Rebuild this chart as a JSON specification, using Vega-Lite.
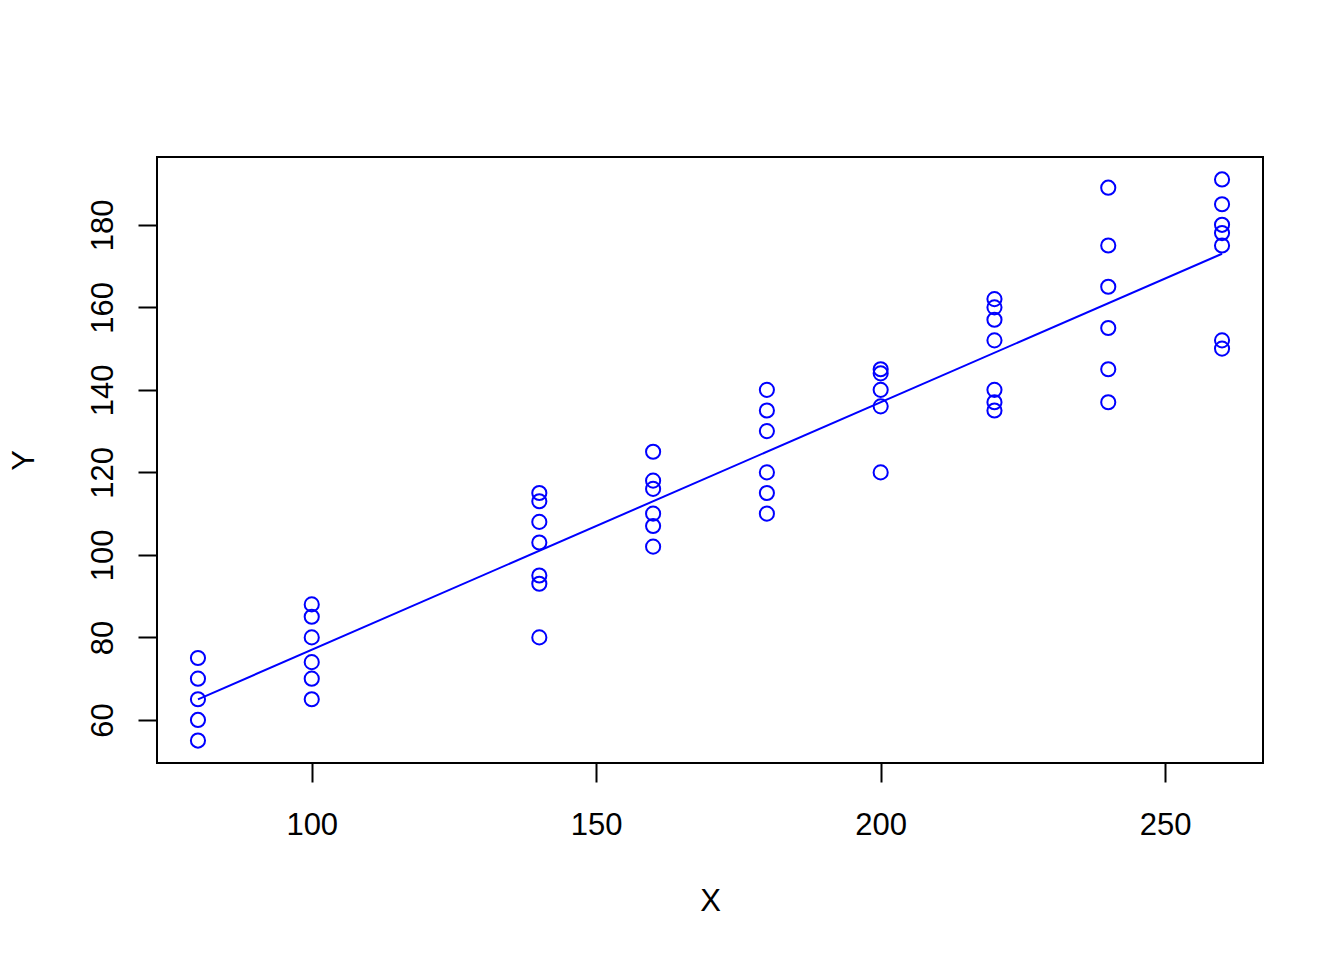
{
  "$schema": "https://vega.github.io/schema/vega-lite/v6.json",
  "width": 1106,
  "height": 606,
  "autosize": {"type": "none"},
  "padding": {"left": 157, "top": 157, "right": 81, "bottom": 197},
  "background": "white",
  "config": {
    "view": {"stroke": "black", "strokeWidth": 2},
    "font": "Liberation Sans"
  },
  "data": {
    "values": [
      {"x": 80, "y": 75}, {"x": 80, "y": 70}, {"x": 80, "y": 65}, {"x": 80, "y": 60}, {"x": 80, "y": 55},
      {"x": 100, "y": 88}, {"x": 100, "y": 85}, {"x": 100, "y": 80}, {"x": 100, "y": 74}, {"x": 100, "y": 70}, {"x": 100, "y": 65},
      {"x": 140, "y": 115}, {"x": 140, "y": 113}, {"x": 140, "y": 108}, {"x": 140, "y": 103}, {"x": 140, "y": 95}, {"x": 140, "y": 93}, {"x": 140, "y": 80},
      {"x": 160, "y": 125}, {"x": 160, "y": 118}, {"x": 160, "y": 116}, {"x": 160, "y": 110}, {"x": 160, "y": 107}, {"x": 160, "y": 102},
      {"x": 180, "y": 140}, {"x": 180, "y": 135}, {"x": 180, "y": 130}, {"x": 180, "y": 120}, {"x": 180, "y": 115}, {"x": 180, "y": 110},
      {"x": 200, "y": 145}, {"x": 200, "y": 144}, {"x": 200, "y": 140}, {"x": 200, "y": 136}, {"x": 200, "y": 120},
      {"x": 220, "y": 162}, {"x": 220, "y": 160}, {"x": 220, "y": 157}, {"x": 220, "y": 152}, {"x": 220, "y": 140}, {"x": 220, "y": 137}, {"x": 220, "y": 135},
      {"x": 240, "y": 189}, {"x": 240, "y": 175}, {"x": 240, "y": 165}, {"x": 240, "y": 155}, {"x": 240, "y": 145}, {"x": 240, "y": 137},
      {"x": 260, "y": 191}, {"x": 260, "y": 185}, {"x": 260, "y": 180}, {"x": 260, "y": 178}, {"x": 260, "y": 175}, {"x": 260, "y": 152}, {"x": 260, "y": 150}
    ]
  },
  "encoding": {
    "x": {
      "field": "x", "type": "quantitative",
      "scale": {"domain": [72.8, 267.2], "nice": false, "zero": false},
      "axis": {
        "title": "X", "values": [100, 150, 200, 250], "domain": false, "grid": false,
        "tickSize": 19, "tickWidth": 2, "tickColor": "black",
        "labelFontSize": 31, "labelColor": "black", "labelPadding": 52, "labelBaseline": "alphabetic",
        "labelOverlap": false, "labelFlush": false,
        "titleFontSize": 31, "titleFontWeight": "normal", "titleColor": "black",
        "titleBaseline": "alphabetic", "titleX": 553, "titleY": 147, "titleAnchor": "middle"
      }
    },
    "y": {
      "field": "y", "type": "quantitative",
      "scale": {"domain": [49.56, 196.44], "nice": false, "zero": false},
      "axis": {
        "title": "Y", "values": [60, 80, 100, 120, 140, 160, 180], "domain": false, "grid": false,
        "tickSize": 19, "tickWidth": 2, "tickColor": "black",
        "labelFontSize": 31, "labelColor": "black", "labelPadding": 26, "labelAngle": 270,
        "labelAlign": "center", "labelBaseline": "alphabetic",
        "labelOverlap": false, "labelFlush": false,
        "titleFontSize": 31, "titleFontWeight": "normal", "titleColor": "black",
        "titleAngle": 270, "titleBaseline": "alphabetic", "titleAlign": "center",
        "titleX": -124, "titleY": 303, "titleAnchor": "middle"
      }
    }
  },
  "layer": [
    {
      "mark": {"type": "point", "shape": "circle", "filled": false, "color": "#0000FF", "size": 200, "strokeWidth": 2, "opacity": 1}
    },
    {
      "transform": [{"regression": "y", "on": "x"}],
      "mark": {"type": "line", "color": "#0000FF", "strokeWidth": 2}
    }
  ]
}
